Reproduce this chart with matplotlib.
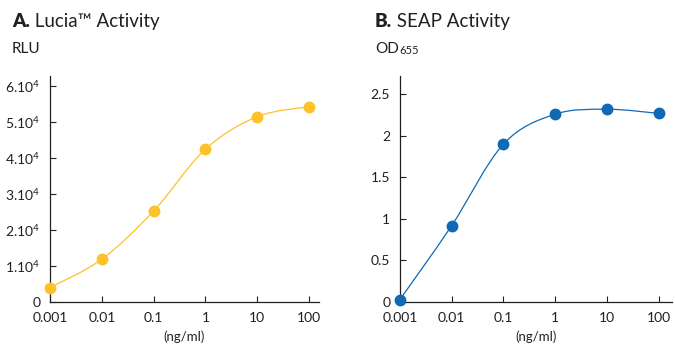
import numpy as np
import matplotlib
matplotlib.use("Agg")
import matplotlib.pyplot as plt
from matplotlib.path import Path
from matplotlib.patches import PathPatch

# data
conc = [0.001, 0.01, 0.1, 1, 10, 100]
conc_labels = ["0.001", "0.01", "0.1", "1", "10", "100"]
lucia_rlu = [4000, 11900, 25300, 42500, 51500, 54300]
seap_od = [0.03, 0.92, 1.90, 2.26, 2.32, 2.27]
rlu_ticks = [0, 10000, 20000, 30000, 40000, 50000, 60000]
rlu_labels = ["0"] + ["%d.10$^{\\mathrm{4}}$" % i for i in range(1, 7)]
od_ticks = [0, 0.5, 1, 1.5, 2, 2.5]
od_labels = ["0", "0.5", "1", "1.5", "2", "2.5"]

yellow = "#fdc12a"
blue = "#0f69b4"
txt = "#231f20"

plt.rcParams["font.family"] = ["Lato", "DejaVu Sans"]
plt.rcParams["mathtext.fontset"] = "custom"
plt.rcParams["mathtext.rm"] = "Lato"
plt.rcParams["mathtext.it"] = "Lato"
plt.rcParams["text.color"] = txt


def smooth_path(xs, ys):
    # catmull-rom through the points, in log10(x) space, as cubic beziers
    lx = np.log10(xs)
    pts = np.column_stack([lx, ys]).astype(float)
    n = len(pts)
    verts = [pts[0]]
    codes = [Path.MOVETO]
    for i in range(n - 1):
        p0 = pts[i - 1] if i > 0 else pts[i]
        p1 = pts[i]
        p2 = pts[i + 1]
        p3 = pts[i + 2] if i + 2 < n else pts[i + 1]
        c1 = p1 + (p2 - p0) / 6.0
        c2 = p2 - (p3 - p1) / 6.0
        verts += [c1, c2, p2]
        codes += [Path.CURVE4] * 3
    verts = np.array(verts)
    verts[:, 0] = 10 ** verts[:, 0]
    return Path(verts, codes)


def style_axis(ax, xmax, ymax):
    ax.set_xscale("log")
    ax.set_xlim(0.001, xmax)
    ax.set_ylim(0, ymax)
    for s in ["top", "right"]:
        ax.spines[s].set_visible(False)
    for s in ["left", "bottom"]:
        ax.spines[s].set_linewidth(0.9)
        ax.spines[s].set_color(txt)
    ax.set_xticks(conc)
    ax.set_xticklabels(conc_labels)
    ax.xaxis.set_minor_locator(matplotlib.ticker.NullLocator())
    ax.tick_params(direction="in", length=4, width=0.8, color=txt,
                   labelsize=10, labelcolor=txt)
    ax.tick_params(axis="x", pad=7)
    ax.tick_params(axis="y", pad=7)
    ax.set_xlabel("(ng/ml)", fontsize=9.5, color=txt, labelpad=5)


fig = plt.figure(figsize=(6.75, 3.45), dpi=100)
W, H = 675.0, 345.0

ax1 = fig.add_axes([50 / W, 43 / H, 269 / W, 226 / H])
ax2 = fig.add_axes([400 / W, 43 / H, 272 / W, 226 / H])

style_axis(ax1, 10 ** 2.19, 62800)
ax1.set_yticks(rlu_ticks)
ax1.set_yticklabels(rlu_labels)
ax1.add_patch(PathPatch(smooth_path(conc, lucia_rlu), fill=False,
                        edgecolor=yellow, lw=0.9))
ax1.plot(conc, lucia_rlu, "o", color=yellow, ms=7.5, clip_on=False, zorder=5)

style_axis(ax2, 10 ** 2.26, 2.72)
ax2.set_yticks(od_ticks)
ax2.set_yticklabels(od_labels)
ax2.add_patch(PathPatch(smooth_path(conc, seap_od), fill=False,
                        edgecolor=blue, lw=0.9))
ax2.plot(conc, seap_od, "o", color=blue, ms=7.5, clip_on=False, zorder=5)

# panel titles
ta = fig.text(12 / W, 1 - 27 / H, "A.", fontsize=13.5, fontweight="heavy",
              va="baseline")
ax1.annotate(" Lucia\u2122 Activity", xy=(1, 0), xycoords=ta, fontsize=13.5,
             va="bottom", ha="left", annotation_clip=False)
tb = fig.text(375 / W, 1 - 27 / H, "B.", fontsize=13.5, fontweight="heavy",
              va="baseline")
ax2.annotate(" SEAP Activity", xy=(1, 0), xycoords=tb, fontsize=13.5,
             va="bottom", ha="left", annotation_clip=False)

fig.text(12 / W, 1 - 53 / H, "RLU", fontsize=11, va="baseline")
tod = fig.text(375 / W, 1 - 53 / H, "OD", fontsize=11, va="baseline")
ax2.annotate("655", xy=(1, 0), xycoords=tod, fontsize=8,
             va="bottom", ha="left", annotation_clip=False)

fig.savefig("out.png", dpi=100)
